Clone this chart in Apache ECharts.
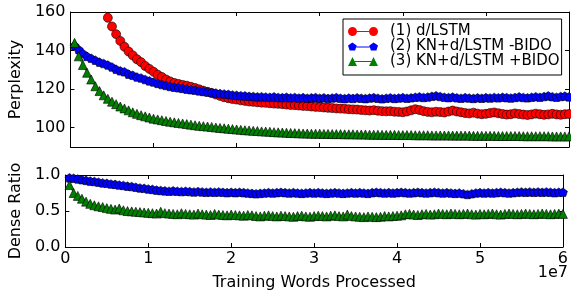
<!DOCTYPE html>
<html>
<head>
<meta charset="utf-8">
<script src="https://cdn.jsdelivr.net/npm/echarts@6/dist/echarts.min.js"></script>
<style>
  html, body { margin: 0; padding: 0; background: #fff; }
  #chart { width: 571px; height: 294px; }
</style>
</head>
<body>
<div id="chart"></div>
<script>
// training words processed, in units of 1e7
const words = [
  0.05, 0.1, 0.15, 0.2, 0.25, 0.3, 0.35, 0.4, 0.45, 0.5,
  0.55, 0.6, 0.65, 0.7, 0.75, 0.8, 0.85, 0.9, 0.95, 1,
  1.05, 1.1, 1.15, 1.2, 1.25, 1.3, 1.35, 1.4, 1.45, 1.5,
  1.55, 1.6, 1.65, 1.7, 1.75, 1.8, 1.85, 1.9, 1.95, 2,
  2.05, 2.1, 2.15, 2.2, 2.25, 2.3, 2.35, 2.4, 2.45, 2.5,
  2.55, 2.6, 2.65, 2.7, 2.75, 2.8, 2.85, 2.9, 2.95, 3,
  3.05, 3.1, 3.15, 3.2, 3.25, 3.3, 3.35, 3.4, 3.45, 3.5,
  3.55, 3.6, 3.65, 3.7, 3.75, 3.8, 3.85, 3.9, 3.95, 4,
  4.05, 4.1, 4.15, 4.2, 4.25, 4.3, 4.35, 4.4, 4.45, 4.5,
  4.55, 4.6, 4.65, 4.7, 4.75, 4.8, 4.85, 4.9, 4.95, 5,
  5.05, 5.1, 5.15, 5.2, 5.25, 5.3, 5.35, 5.4, 5.45, 5.5,
  5.55, 5.6, 5.65, 5.7, 5.75, 5.8, 5.85, 5.9, 5.95, 6
];

// perplexity, (1) d/LSTM
const pplLstm = [
  300, 245, 215, 198, 185, 175, 168, 162.5, 157, 152.5,
  148.5, 145, 142, 139.5, 137.5, 135.5, 134, 132, 130.5, 129,
  127.5, 126.3, 125, 124, 123.2, 122.7, 122.2, 121.8, 121.2, 120.6,
  119.9, 119.2, 118.6, 118, 117.2, 116.5, 115.8, 115.3, 114.9, 114.6,
  114.2, 113.9, 113.6, 113.4, 113.2, 113, 112.9, 112.7, 112.5, 112.4,
  112.2, 112, 111.8, 111.7, 111.5, 111.3, 111.2, 111, 110.8, 110.7,
  110.5, 110.3, 110.2, 110, 109.9, 109.8, 109.6, 109.5, 109.4, 109.2,
  109, 108.9, 109.1, 108.8, 108.6, 108.5, 108.6, 108.3, 108.2, 108,
  108.4, 109, 109.6, 109.2, 108.6, 108.2, 108, 108.3, 108.1, 107.9,
  108.4, 108.9, 108.4, 108, 107.6, 107.4, 107.8, 107.3, 107, 107.2,
  107.6, 107.9, 107.5, 107.1, 106.8, 107, 107.4, 107.1, 106.8, 106.6,
  106.9, 107.3, 107, 106.7, 106.9, 107.2, 106.9, 106.7, 107, 107.1
];

// perplexity, (2) KN+d/LSTM -BIDO
const pplNoBido = [
  142.5, 140.5, 138.5, 137, 136, 135, 134, 133.3, 132.5, 131.5,
  130.3, 129.5, 129, 127.8, 127.2, 126.3, 125.8, 125, 124.3, 123.7,
  123, 122.4, 121.9, 121.4, 121, 120.7, 120.4, 120, 119.7, 119.5,
  119.1, 118.8, 118.5, 118.2, 118, 117.7, 117.5, 117.3, 117, 116.8,
  116.6, 116.5, 116.3, 116.2, 116, 116.1, 115.9, 115.8, 116, 115.7,
  115.6, 115.8, 115.5, 115.7, 115.4, 115.6, 115.3, 115.5, 115.6, 115.3,
  115.5, 115.2, 115.4, 115.6, 115.3, 115.1, 115.4, 115.2, 115.5, 115.3,
  115.1, 115.4, 115.6, 115.3, 115, 115.3, 115.5, 115.2, 115.4, 115.6,
  115.3, 115.5, 115.8, 116, 115.7, 115.9, 116.3, 116.6, 116.2, 115.8,
  115.6, 115.9, 115.5, 115.3, 115.6, 115.4, 115.2, 115.5, 115.3, 115.6,
  115.4, 115.7, 115.5, 115.8, 115.6, 115.4, 115.7, 116, 115.7, 115.5,
  115.8, 116.1, 115.8, 116.2, 116.5, 116.1, 115.8, 116.2, 116.4, 116
];

// perplexity, (3) KN+d/LSTM +BIDO
const pplBido = [
  144, 137, 132.5, 128.5, 125, 121.5, 119, 116.8, 115, 113.5,
  112.2, 111, 110, 109, 108, 107.2, 106.5, 105.9, 105.3, 104.7,
  104.3, 103.9, 103.5, 103.1, 102.8, 102.5, 102.2, 101.9, 101.6, 101.3,
  101, 100.8, 100.6, 100.4, 100.1, 99.9, 99.7, 99.5, 99.3, 99.1,
  98.9, 98.7, 98.6, 98.4, 98.3, 98.1, 98, 97.9, 97.7, 97.6,
  97.5, 97.4, 97.3, 97.2, 97.1, 97, 97, 96.9, 96.9, 96.9,
  96.8, 96.8, 96.7, 96.7, 96.7, 96.6, 96.6, 96.6, 96.5, 96.5,
  96.5, 96.4, 96.4, 96.4, 96.3, 96.3, 96.3, 96.3, 96.2, 96.2,
  96.2, 96.2, 96.1, 96.1, 96.1, 96.1, 96, 96, 96, 96,
  96, 95.9, 95.9, 95.9, 95.9, 95.9, 95.8, 95.8, 95.8, 95.8,
  95.8, 95.8, 95.7, 95.7, 95.7, 95.7, 95.7, 95.7, 95.6, 95.6,
  95.6, 95.6, 95.6, 95.6, 95.6, 95.5, 95.5, 95.5, 95.5, 95.5
];

// dense ratio, (2) -BIDO
const ratioNoBido = [
  0.96, 0.955, 0.945, 0.935, 0.925, 0.915, 0.91, 0.9, 0.89, 0.885,
  0.875, 0.87, 0.86, 0.855, 0.845, 0.84, 0.83, 0.82, 0.815, 0.805,
  0.8, 0.79, 0.785, 0.78, 0.775, 0.78, 0.775, 0.77, 0.775, 0.77,
  0.765, 0.77, 0.765, 0.76, 0.765, 0.76, 0.765, 0.76, 0.755, 0.76,
  0.755, 0.76, 0.755, 0.75, 0.745, 0.74, 0.745, 0.75, 0.755, 0.75,
  0.755, 0.76, 0.755, 0.75, 0.755, 0.75, 0.745, 0.75, 0.755, 0.75,
  0.755, 0.75, 0.745, 0.75, 0.755, 0.75, 0.745, 0.75, 0.755, 0.75,
  0.755, 0.75, 0.745, 0.755, 0.76, 0.755, 0.75, 0.755, 0.75, 0.755,
  0.76, 0.755, 0.75, 0.755, 0.76, 0.755, 0.75, 0.755, 0.76, 0.755,
  0.75, 0.755, 0.75, 0.745, 0.75, 0.74, 0.73, 0.74, 0.75, 0.755,
  0.75, 0.755, 0.75, 0.755, 0.76, 0.755, 0.75, 0.755, 0.76, 0.765,
  0.76, 0.765, 0.76, 0.765, 0.76, 0.765, 0.76, 0.755, 0.76, 0.76
];

// dense ratio, (3) +BIDO
const ratioBido = [
  0.86, 0.75, 0.71, 0.67, 0.63, 0.6, 0.58, 0.565, 0.555, 0.54,
  0.53, 0.52, 0.535, 0.51, 0.5, 0.495, 0.49, 0.485, 0.48, 0.475,
  0.47, 0.465, 0.49, 0.47, 0.465, 0.46, 0.455, 0.47, 0.46, 0.455,
  0.45, 0.465, 0.455, 0.45, 0.445, 0.46, 0.45, 0.445, 0.44, 0.45,
  0.445, 0.44, 0.435, 0.445, 0.44, 0.43, 0.425, 0.435, 0.44, 0.43,
  0.425, 0.435, 0.43, 0.425, 0.42, 0.43, 0.435, 0.425, 0.42, 0.43,
  0.435, 0.43, 0.425, 0.435, 0.44, 0.43, 0.425, 0.45, 0.43, 0.425,
  0.42, 0.415, 0.425, 0.42, 0.415, 0.42, 0.43, 0.425, 0.43, 0.435,
  0.44, 0.455, 0.46, 0.45, 0.445, 0.455, 0.46, 0.45, 0.455, 0.465,
  0.46, 0.455, 0.465, 0.46, 0.455, 0.46, 0.465, 0.455, 0.45, 0.46,
  0.455, 0.46, 0.465, 0.455, 0.45, 0.46, 0.465, 0.46, 0.455, 0.46,
  0.465, 0.46, 0.455, 0.46, 0.465, 0.46, 0.455, 0.46, 0.465, 0.46
];

const pplTicks = [100, 120, 140, 160];
const names = ['(1) d/LSTM', '(2) KN+d/LSTM -BIDO', '(3) KN+d/LSTM +BIDO'];
const colors = ['#ff0000', '#0000ff', '#008000'];

const font = 'DejaVu Sans';
const pentagon = 'path://M0,-4L3.8,-1.24L2.35,3.24L-2.35,3.24L-3.8,-1.24Z';
const symbols = ['circle', pentagon, 'triangle'];

// legend icons: two markers joined by a line
const legendIcons = [
  'path://M0,5A4.5,4.5 0 1,1 9,5A4.5,4.5 0 1,1 0,5Z M9,4.5L21,4.5L21,5.5L9,5.5Z M21,5A4.5,4.5 0 1,1 30,5A4.5,4.5 0 1,1 21,5Z',
  'path://M4.5,0.5L8.8,3.6L7.2,8.6L1.8,8.6L0.2,3.6Z M8.4,4.5L21.6,4.5L21.6,5.5L8.4,5.5Z M25.5,0.5L29.8,3.6L28.2,8.6L22.8,8.6L21.2,3.6Z',
  'path://M4.5,0.5L9,9.5L0,9.5Z M6.8,4.5L23.2,4.5L23.2,5.5L6.8,5.5Z M25.5,0.5L30,9.5L21,9.5Z'
];

function pairs(ys) {
  return words.map((x, i) => [x, ys[i]]);
}

function baseAxis(gridIndex, position, labels) {
  return {
    type: 'value',
    gridIndex: gridIndex,
    position: position,
    axisLine: { show: true, onZero: false, lineStyle: { color: '#000', width: 1 } },
    axisTick: { show: true, inside: true, length: 4, lineStyle: { color: '#000', width: 1 } },
    axisLabel: { show: labels, color: '#000', fontFamily: font, fontSize: 16, margin: 5 },
    splitLine: { show: false }
  };
}

function xAxis(gridIndex, position, labels) {
  const a = baseAxis(gridIndex, position, labels);
  a.min = 0;
  a.max = 6;
  a.interval = 1;
  return a;
}

function pplAxis(position, labels) {
  const a = baseAxis(0, position, labels);
  a.min = 90;
  a.max = 160;
  a.axisTick.customValues = pplTicks;
  a.axisLabel.customValues = pplTicks;
  return a;
}

function ratioAxis(position, labels) {
  const a = baseAxis(1, position, labels);
  a.min = 0;
  a.max = 1;
  a.interval = 0.5;
  a.axisLabel.formatter = v => v.toFixed(1);
  return a;
}

function line(idx, ys, axisIndex) {
  return {
    name: names[idx],
    type: 'line',
    xAxisIndex: axisIndex,
    yAxisIndex: axisIndex,
    data: pairs(ys),
    symbol: symbols[idx],
    symbolSize: 9,
    symbolKeepAspect: true,
    showAllSymbol: true,
    clip: true,
    lineStyle: { color: colors[idx], width: 1 },
    itemStyle: { color: colors[idx], borderColor: '#000', borderWidth: 0.6 },
    emphasis: { disabled: true }
  };
}

const xTop = xAxis(0, 'bottom', false);
const xTopUpper = xAxis(0, 'top', false);
const xBottom = xAxis(1, 'bottom', true);
xBottom.axisLabel.margin = 4;
xBottom.name = 'Training Words Processed';
xBottom.nameLocation = 'middle';
xBottom.nameGap = 28;
xBottom.nameTextStyle = { color: '#000', fontFamily: font, fontSize: 16 };
const xBottomUpper = xAxis(1, 'top', false);

const yPpl = pplAxis('left', true);
yPpl.name = 'Perplexity';
yPpl.nameLocation = 'middle';
yPpl.nameGap = 45;
yPpl.nameTextStyle = { color: '#000', fontFamily: font, fontSize: 16 };
const yPplRight = pplAxis('right', false);

const yRatio = ratioAxis('left', true);
yRatio.name = 'Dense Ratio';
yRatio.nameLocation = 'middle';
yRatio.nameGap = 41;
yRatio.nameTextStyle = { color: '#000', fontFamily: font, fontSize: 16 };
const yRatioRight = ratioAxis('right', false);

const chart = echarts.init(document.getElementById('chart'), null, { renderer: 'canvas' });
chart.setOption({
  animation: false,
  backgroundColor: '#fff',
  grid: [
    { left: 66, right: 2, top: 12, height: 135 },
    { left: 62, right: 3, top: 175, height: 72 }
  ],
  xAxis: [xTop, xTopUpper, xBottom, xBottomUpper],
  yAxis: [yPpl, yPplRight, yRatio, yRatioRight],
  legend: {
    orient: 'vertical',
    left: 343,
    top: 19,
    itemWidth: 30,
    itemHeight: 9,
    itemGap: 0,
    padding: [5, 2, 6, 5],
    borderColor: '#000',
    borderWidth: 1,
    borderRadius: 0,
    backgroundColor: '#fff',
    selectedMode: false,
    itemStyle: { borderWidth: 0 },
    textStyle: { color: '#000', fontFamily: font, fontSize: 15, lineHeight: 15, padding: [0, 0, 0, 7] },
    data: names.map((n, i) => ({ name: n, icon: legendIcons[i] }))
  },
  graphic: [
    { type: 'text', right: 3, top: 265, style: { text: '1e7', fill: '#000', font: '16px "DejaVu Sans"' } }
  ],
  series: [
    line(0, pplLstm, 0),
    line(1, pplNoBido, 0),
    line(2, pplBido, 0),
    line(1, ratioNoBido, 2),
    line(2, ratioBido, 2)
  ]
});
</script>
</body>
</html>
